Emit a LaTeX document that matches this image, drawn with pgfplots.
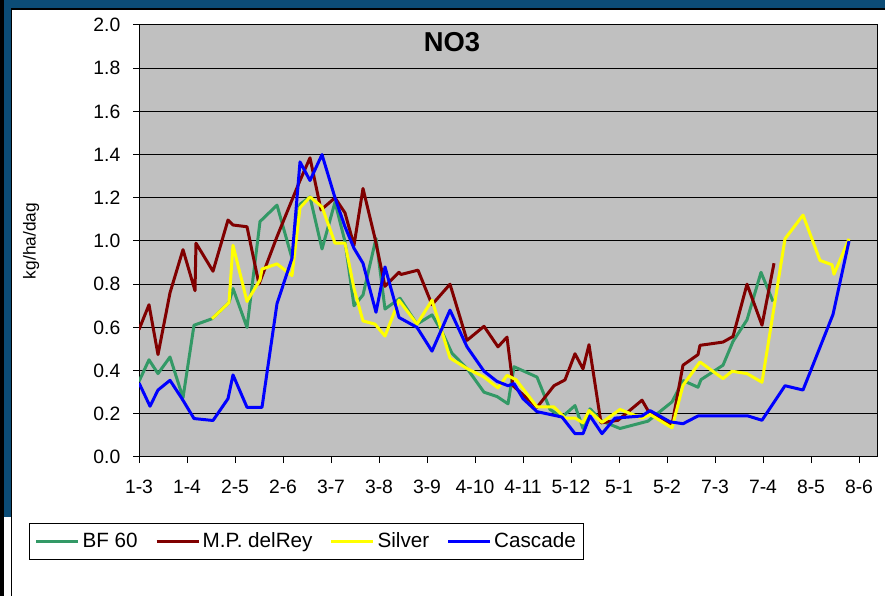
\documentclass[border=0pt]{standalone}
\usepackage{fontspec}
\setmainfont{Liberation Sans}
\usepackage{pgfplots}
\pgfplotsset{compat=1.18}
\definecolor{bfgreen}{RGB}{51,153,102}
\definecolor{mpred}{RGB}{128,0,0}
\definecolor{silv}{RGB}{255,255,0}
\definecolor{casc}{RGB}{0,0,255}
\definecolor{frameblue}{RGB}{12,76,118}
\definecolor{plotgray}{RGB}{192,192,192}
\begin{document}
\begin{tikzpicture}
\path[use as bounding box] (0,0) rectangle (663.75pt,447pt);
\fill[white] (0,0) rectangle (663.75pt,447pt);
\fill[frameblue] (0,441pt) rectangle (663.75pt,447pt);
\fill[black] (0,439.5pt) rectangle (663.75pt,441pt);
\fill[black] (0,0) rectangle (3pt,447pt);
\fill[frameblue] (3pt,59.25pt) rectangle (8.25pt,441pt);
\fill[black] (8.25pt,0) rectangle (9.2pt,441pt);
\begin{axis}[
  at={(104.25pt,104.25pt)}, anchor=south west,
  scale only axis, width=553.5pt, height=324pt,
  xmin=139, xmax=877, ymin=0, ymax=2,
  axis background/.style={fill=plotgray},
  axis line style={black, line width=0.75pt},
  ymajorgrids, major grid style={black, line width=0.75pt},
  tick style={black, line width=0.75pt},
  tick align=outside, major tick length=4.5pt,
  xtick pos=bottom, ytick pos=left,
  xtick={139,187,235,283,331,379,427,475,523,571,619,667,715,763,811,859},
  xticklabels={1-3,1-4,2-5,2-6,3-7,3-8,3-9,4-10,4-11,5-12,5-1,5-2,7-3,7-4,8-5,8-6},
  ytick={0,0.2,0.4,0.6,0.8,1.0,1.2,1.4,1.6,1.8,2.0},
  /pgf/number format/assume math mode=true,
  yticklabel style={/pgf/number format/fixed, /pgf/number format/fixed zerofill, /pgf/number format/precision=1, font=\fontsize{14.5}{17}\selectfont, xshift=-6pt},
  xticklabel style={font=\fontsize{14.5}{17}\selectfont, yshift=-9pt},
  title={NO3},
  title style={at={(axis description cs:0.424,0.942)}, anchor=center, font=\bfseries\fontsize{20.5}{23}\selectfont},
  ylabel={kg/ha/dag},
  ylabel style={at={(axis description cs:-0.146,0.5)}, anchor=center, font=\fontsize{13}{15}\selectfont},
  legend columns=4,
  legend cell align=left,
  legend image code/.code={\draw[#1] (0pt,0pt) -- (31.5pt,0pt);},
  legend style={at={(axis description cs:-0.149,-0.153)}, anchor=north west, draw=black, line width=0.75pt, fill=white,
    font=\fontsize{15.5}{18}\selectfont, inner xsep=4pt, inner ysep=5pt,
    /tikz/every even column/.append style={column sep=11pt}},
  every axis plot/.append style={line width=2.25pt, line join=round},
]
\addplot[bfgreen] coordinates {
(139,0.35)(149,0.45)(158,0.386)(170,0.463)(183,0.274)(194,0.61)(212,0.64)(229,0.715)(233,0.78)(247,0.60)(260,1.09)(277,1.166)(292,0.92)(300,1.17)(310,1.204)(322,0.963)(335,1.18)(345,0.997)(354,0.70)(363,0.75)(376,1.012)(385,0.685)(400,0.735)(417,0.615)(432,0.658)(442,0.58)(452,0.48)(467,0.41)(484,0.30)(497,0.28)(508,0.246)(514,0.418)(537,0.37)(550,0.22)(562,0.185)(575,0.238)(583,0.132)(590,0.223)(602,0.166)(620,0.132)(648,0.166)(672,0.255)(683,0.354)(698,0.323)(701,0.358)(723,0.425)(733,0.535)(747,0.635)(761,0.855)(773,0.72)
};
\addlegendentry{BF 60}
\addplot[mpred] coordinates {
(139,0.59)(149,0.705)(158,0.474)(170,0.76)(183,0.96)(195,0.77)(196,0.99)(213,0.86)(228,1.097)(233,1.074)(247,1.066)(259,0.80)(277,1.02)(292,1.19)(300,1.28)(310,1.385)(321,1.144)(335,1.20)(345,1.13)(354,0.98)(363,1.243)(375,1.012)(385,0.79)(399,0.855)(401,0.845)(418,0.865)(432,0.705)(450,0.80)(467,0.54)(484,0.605)(498,0.51)(507,0.555)(513,0.33)(537,0.23)(554,0.33)(565,0.357)(575,0.478)(583,0.408)(589,0.52)(601,0.158)(618,0.17)(642,0.263)(648,0.215)(672,0.15)(683,0.425)(698,0.474)(700,0.517)(723,0.532)(733,0.558)(747,0.80)(762,0.61)(774,0.897)
};
\addlegendentry{M.P. delRey}
\addplot[silv] coordinates {
(212,0.64)(229,0.715)(233,0.98)(247,0.72)(260,0.82)(262,0.87)(277,0.894)(292,0.84)(300,1.154)(310,1.204)(322,1.158)(335,0.99)(345,0.99)(354,0.78)(363,0.63)(375,0.615)(385,0.56)(399,0.726)(417,0.615)(432,0.726)(442,0.58)(450,0.458)(467,0.41)(484,0.37)(498,0.32)(507,0.378)(516,0.358)(537,0.232)(554,0.232)(565,0.18)(575,0.18)(583,0.158)(589,0.215)(602,0.16)(620,0.22)(642,0.18)(650,0.197)(672,0.135)(683,0.332)(700,0.44)(723,0.363)(732,0.397)(747,0.386)(762,0.346)(785,1.01)(803,1.12)(820,0.91)(832,0.89)(834,0.846)(849,1.01)
};
\addlegendentry{Silver}
\addplot[casc] coordinates {
(139,0.343)(150,0.235)(158,0.31)(170,0.355)(182,0.27)(194,0.178)(213,0.169)(228,0.27)(233,0.38)(247,0.23)(262,0.23)(277,0.71)(292,0.92)(300,1.366)(310,1.28)(322,1.40)(335,1.20)(345,1.066)(354,0.966)(363,0.897)(376,0.67)(385,0.88)(399,0.646)(417,0.60)(432,0.49)(450,0.68)(467,0.51)(484,0.397)(497,0.35)(508,0.33)(514,0.34)(523,0.27)(537,0.21)(562,0.185)(575,0.108)(583,0.108)(590,0.19)(602,0.108)(615,0.18)(642,0.19)(650,0.215)(670,0.163)(683,0.154)(698,0.19)(748,0.19)(762,0.17)(785,0.33)(803,0.31)(833,0.66)(849,1.0)
};
\addlegendentry{Cascade}
\end{axis}
\end{tikzpicture}
\end{document}
